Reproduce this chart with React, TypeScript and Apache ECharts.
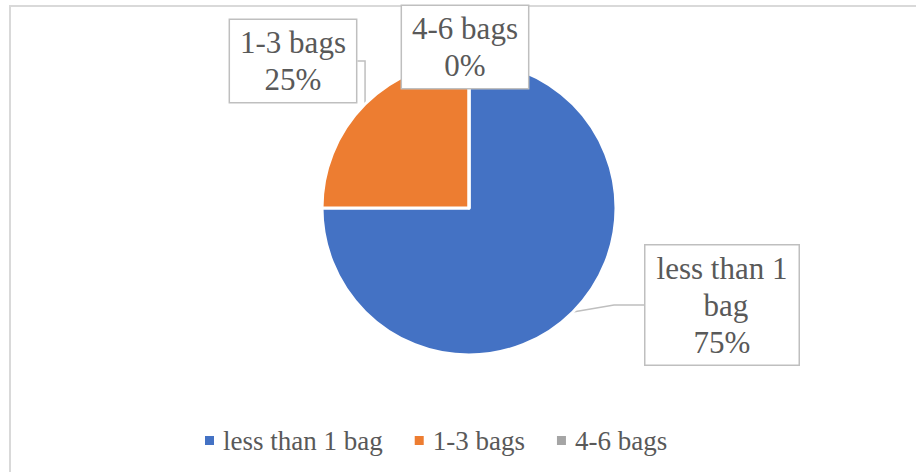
import React, { useEffect, useRef } from "react";
import * as echarts from "echarts";

const categories = ["less than 1 bag", "1-3 bags", "4-6 bags"];
const values = [75, 25, 0];
const colors = ["#4472C4", "#ED7D31", "#A5A5A5"];

const FONT = "Times New Roman, Liberation Serif, serif";
const TEXT = "#595959";

// label box centres (layout only)
const labelCenters: [number, number][] = [
  [722, 305],
  [293, 61],
  [465, 47],
];

export default function App() {
  const ref = useRef<HTMLDivElement>(null);
  useEffect(() => {
    document.body.style.margin = "0";
    const chart = echarts.init(ref.current!, null, { renderer: "svg" });
    chart.setOption({
      animation: false,
      backgroundColor: "#ffffff",
      textStyle: { fontFamily: FONT },
      graphic: [
        {
          type: "rect",
          shape: { x: 10, y: 6, width: 1000, height: 1000 },
          style: { fill: "none", stroke: "#d9d9d9", lineWidth: 2 },
          z: -1,
        },
      ],
      legend: {
        left: 198,
        top: 422,
        itemWidth: 11,
        itemHeight: 11,
        itemGap: 30,
        icon: "rect",
        data: categories,
        textStyle: {
          fontFamily: FONT,
          fontSize: 27,
          color: TEXT,
          padding: [0, 0, 0, 3],
        },
      },
      series: [
        {
          type: "pie",
          center: [469, 208],
          radius: 147,
          startAngle: 90,
          clockwise: true,
          itemStyle: { borderColor: "#ffffff", borderWidth: 3 },
          label: {
            show: true,
            position: "outside",
            formatter: "{b}\n{d}%",
            fontFamily: FONT,
            fontSize: 31,
            lineHeight: 37,
            color: TEXT,
            align: "center",
            backgroundColor: "#ffffff",
            borderColor: "#bfbfbf",
            borderWidth: 1.5,
            padding: [4, 10],
          },
          labelLine: {
            show: true,
            lineStyle: { color: "#bfbfbf", width: 1.5 },
          },
          labelLayout: (p: any) => {
            const c = labelCenters[p.dataIndex];
            return { x: c[0], y: c[1], align: "center", verticalAlign: "middle" };
          },
          data: categories.map((name, i) => ({
            name,
            value: values[i],
            itemStyle: { color: colors[i] },
            label: i === 0 ? { width: 133, overflow: "break" } : undefined,
          })),
        },
      ],
    });
    return () => chart.dispose();
  }, []);
  return <div ref={ref} style={{ width: 916, height: 472 }} />;
}
